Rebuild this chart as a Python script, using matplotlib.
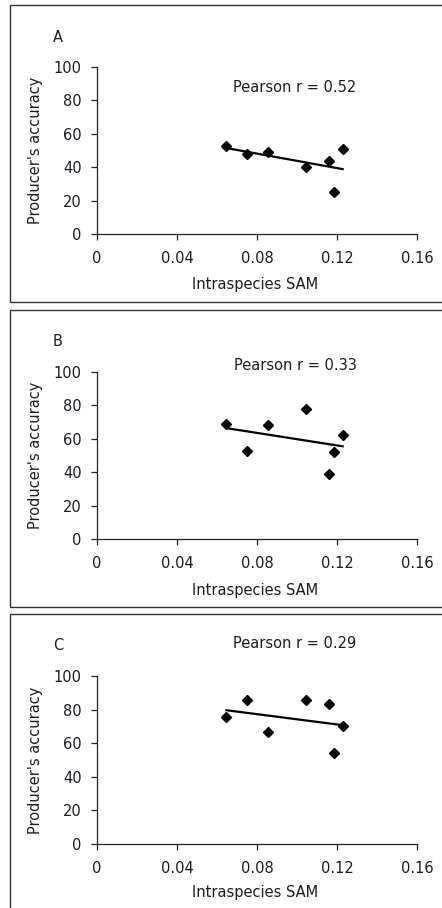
import numpy as np
import matplotlib.pyplot as plt
from matplotlib.patches import Rectangle

plt.rcParams['font.family'] = ['DejaVu Sans']

# Intraspecies SAM per species (same for all panels)
sam = [0.0647, 0.0750, 0.0853, 0.1045, 0.1158, 0.1187, 0.1228]
# Producer's accuracy for the three panels
acc_a = [52.9, 47.7, 48.9, 40.4, 43.5, 25.2, 50.9]
acc_b = [68.8, 52.9, 68.2, 77.7, 38.8, 52.3, 62.2]
acc_c = [75.4, 85.9, 66.7, 85.9, 83.3, 54.4, 70.0]
panel_letters = ['A', 'B', 'C']
pearson_r = [0.52, 0.33, 0.29]
xticks = [0, 0.04, 0.08, 0.12, 0.16]
xticklabels = ['0', '0.04', '0.08', '0.12', '0.16']
yticks = [0, 20, 40, 60, 80, 100]

W, H = 442, 908
fig = plt.figure(figsize=(W / 100, H / 100), dpi=100)

def px(x, y):
    # pixel (from top-left) -> figure fraction
    return x / W, 1 - y / H

# panel frames: (top, bottom) in pixels
frames = [(5, 302), (310, 607), (614, 915)]
# axes: (top, bottom) in pixels
axes_pos = [(67, 234), (372, 539), (676, 844)]
letter_y = [37, 341, 646]
pearson_y = [88, 366, 644]
xlabel_y = [285, 590, 893]

tc = '#1c1c24'
fs = 10.5
for i, acc in enumerate([acc_a, acc_b, acc_c]):
    ftop, fbot = frames[i]
    fig.patches.append(Rectangle(px(10, fbot), 0.99, (fbot - ftop) / H,
                                 transform=fig.transFigure, fill=False,
                                 edgecolor='#333333', linewidth=1.0))
    top, bot = axes_pos[i]
    l, b = px(97, bot)
    ax = fig.add_axes([l, b, 320 / W, (bot - top) / H])
    ax.plot(sam, acc, linestyle='none', marker='D', markersize=5.5,
            color='black')
    # linear trend line
    k, c = np.polyfit(sam, acc, 1)
    xs = np.array([min(sam), max(sam)])
    ax.plot(xs, k * xs + c, color='black', linewidth=1.6)

    ax.set_xlim(0, 0.16)
    ax.set_ylim(0, 100)
    ax.set_xticks(xticks)
    ax.set_xticklabels(xticklabels)
    ax.set_yticks(yticks)
    for s in ['top', 'right']:
        ax.spines[s].set_visible(False)
    for s in ['left', 'bottom']:
        ax.spines[s].set_color('#222222')
        ax.spines[s].set_linewidth(0.9)
    ax.tick_params(direction='out', length=4, width=0.9, colors='#222222',
                   labelsize=fs, labelcolor=tc)
    ax.tick_params(axis='y', pad=7)
    ax.tick_params(axis='x', pad=8)
    ax.set_ylabel("Producer's accuracy", fontsize=fs, color=tc, labelpad=8)

    fig.text(*px(255, xlabel_y[i]), 'Intraspecies SAM', ha='center',
             va='center', fontsize=fs, color=tc)
    fig.text(*px(58, letter_y[i]), panel_letters[i], ha='center',
             va='center', fontsize=fs, color=tc)
    fig.text(*px(295, pearson_y[i]), f'Pearson r = {pearson_r[i]:.2f}',
             ha='center', va='center', fontsize=fs, color=tc)

fig.savefig('out.png', dpi=100)
